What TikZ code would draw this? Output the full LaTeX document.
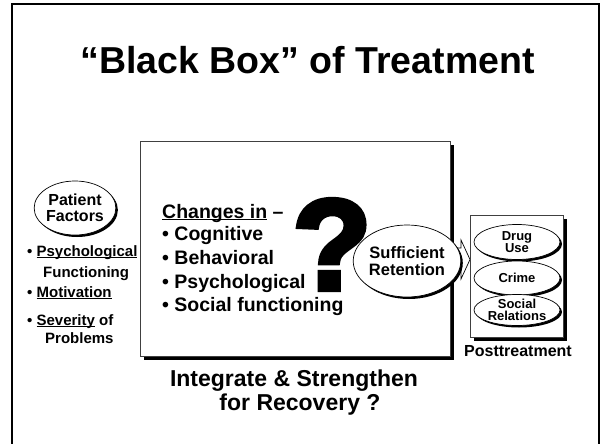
\documentclass[tikz,border=0pt]{standalone}
\usepackage{fontspec}
\setmainfont{Liberation Sans}
\newfontfamily\qfont[FakeBold=4]{Liberation Sans}
\usetikzlibrary{shapes.geometric,shadows}
\newcommand\myul[1]{\setbox0\hbox{#1}\rlap{\rule[-2.3pt]{\wd0}{1.4pt}}\box0{}}
\tikzset{
  lefttxt/.style={inner sep=0pt, anchor=base west, font=\bfseries\fontsize{15}{16}\selectfont},
  maintxt/.style={inner sep=0pt, anchor=base west, font=\bfseries\fontsize{19.5}{23}\selectfont},
  ovalshape/.style={ellipse, draw=black, line width=0.7pt, fill=white, inner sep=0pt, align=center,
     general shadow={fill=black, shadow xshift=2pt, shadow yshift=-2pt}},
  boxshape/.style={rectangle, draw=black!75, line width=0.8pt, fill=white, inner sep=0pt, anchor=north west,
     general shadow={fill=black, shadow xshift=4pt, shadow yshift=-4pt}},
}
\begin{document}
\begin{tikzpicture}[x=1pt,y=-1pt]
\useasboundingbox (0,0) rectangle (602,444);
% outer frame
\draw[line width=2pt] (12,450) -- (12,4) -- (599,4) -- (599,450);
% title
\node[inner sep=0pt, anchor=base, font=\bfseries\fontsize{37.5}{40}\selectfont] (title) at (307.5,74) {“Black Box” of Treatment};
% arrow (drawn before box so box covers its tail)
\draw[line width=0.7pt, fill=white] (448,248) -- (461,248) -- (461,240) -- (470,259.5) -- (461,279) -- (461,270) -- (448,270);
% main box
\node[boxshape, minimum width=310pt, minimum height=215pt] (box) at (140,141) {};
% question mark
\node[inner sep=0pt, font=\qfont\bfseries\fontsize{129}{135}\selectfont] (q) at (332,244.5) {?};
% main text
\node[maintxt] (chg) at (162,218) {\myul{Changes in} –};
\node[maintxt] (cog) at (162,240) {• Cognitive};
\node[maintxt] (beh) at (162,264) {• Behavioral};
\node[maintxt] (psy) at (162,288) {• Psychological};
\node[maintxt] (soc) at (162,311) {• Social functioning};
% patient factors
\node[ovalshape, minimum width=77pt, minimum height=54pt, font=\bfseries\fontsize{16}{15.5}\selectfont] (pf) at (75,208) {Patient\\Factors};
\node[lefttxt] (l1) at (27,256) {• \myul{Psychological}};
\node[lefttxt] (l2) at (43,277) {Functioning};
\node[lefttxt] (l3) at (27,297) {• \myul{Motivation}};
\node[lefttxt] (l4) at (27,325) {• \myul{Severity} of};
\node[lefttxt] (l5) at (45,343) {Problems};
% sufficient retention
\node[ovalshape, minimum width=89pt, minimum height=72pt, font=\bfseries\fontsize{16.5}{17}\selectfont] (sr) at (407,261) {Sufficient\\Retention};
% posttreatment box
\node[boxshape, minimum width=93pt, minimum height=122pt] (pbox) at (470,215) {};
\node[ovalshape, minimum width=86pt, minimum height=35pt, font=\bfseries\fontsize{13}{12}\selectfont] (drug) at (517,242) {Drug\\Use};
\node[ovalshape, minimum width=86pt, minimum height=34pt, font=\bfseries\fontsize{13}{12}\selectfont] (crime) at (517,278) {Crime};
\node[ovalshape, minimum width=86pt, minimum height=31pt, font=\bfseries\fontsize{13}{12}\selectfont] (socrel) at (517,310) {Social\\Relations};
\node[inner sep=0pt, anchor=base, font=\bfseries\fontsize{16}{17}\selectfont] (post) at (518,356) {Posttreatment};
% bottom text
\node[inner sep=0pt, anchor=base, font=\bfseries\fontsize{23}{24}\selectfont] (int1) at (294,386) {Integrate \& Strengthen};
\node[inner sep=0pt, anchor=base, font=\bfseries\fontsize{23}{24}\selectfont] (int2) at (300,410) {for Recovery ?};
\end{tikzpicture}
\end{document}
